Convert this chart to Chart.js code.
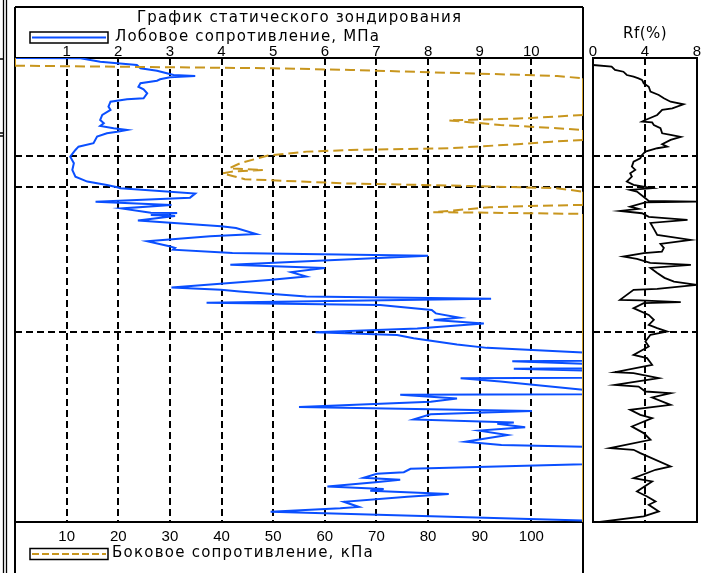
<!DOCTYPE html>
<html>
<head>
<meta charset="utf-8">
<script src="https://cdn.jsdelivr.net/npm/chart.js@4.4.1/dist/chart.umd.min.js"></script>
<style>
  html, body { margin: 0; padding: 0; background: #fff; }
  #wrap { position: relative; width: 705px; height: 573px; overflow: hidden; }
  #main { position: absolute; left: 0; top: 0; }
  #rf { position: absolute; left: 583px; top: 0; }
</style>
</head>
<body>
<div id="wrap">
  <canvas id="main" width="600" height="573"></canvas>
  <canvas id="rf" width="122" height="573"></canvas>
</div>
<script>
// Depth axis (m), layer boundaries
const depthMax = 6.19;
const layerDepths = [1.31, 1.72, 3.65];

// Tick labels
const qcTicks = [1, 2, 3, 4, 5, 6, 7, 8, 9, 10];
const fsTicks = [10, 20, 30, 40, 50, 60, 70, 80, 90, 100];
const rfTicks = [0, 4, 8];

// Cone resistance qc, MPa (values at 11 = off scale)
const qcDepth = [
  0.000, 0.004, 0.049, 0.071, 0.093, 0.137, 0.169, 0.204, 0.227, 0.240,
  0.257, 0.284, 0.303, 0.337, 0.383, 0.417, 0.471, 0.537, 0.551, 0.583,
  0.649, 0.693, 0.760, 0.827, 0.871, 0.907, 0.937, 0.960, 0.983, 1.004,
  1.049, 1.137, 1.183, 1.227, 1.316, 1.404, 1.493, 1.583, 1.649, 1.693,
  1.724, 1.737, 1.809, 1.863, 1.917, 1.960, 2.007, 2.064, 2.067, 2.093,
  2.107, 2.168, 2.244, 2.267, 2.347, 2.377, 2.445, 2.512, 2.533, 2.557,
  2.600, 2.637, 2.759, 2.803, 2.856, 2.915, 2.960, 3.063, 3.093, 3.116,
  3.183, 3.213, 3.264, 3.295, 3.363, 3.407, 3.465, 3.496, 3.541, 3.608,
  3.659, 3.695, 3.740, 3.821, 3.867, 3.929, 4.040, 4.047, 4.079, 4.140,
  4.145, 4.168, 4.264, 4.272, 4.317, 4.425, 4.487, 4.492, 4.541, 4.587,
  4.655, 4.708, 4.753, 4.821, 4.863, 4.880, 4.925, 4.971, 5.029, 5.120,
  5.164, 5.187, 5.421, 5.480, 5.525, 5.547, 5.600, 5.627, 5.660, 5.715,
  5.751, 5.773, 5.817, 5.853, 5.920, 5.989, 6.007, 6.052, 6.169, 6.190
];
const qcValues = [
  0, 1.27, 1.65, 1.98, 2.36, 2.43, 2.75, 2.94, 3.07, 3.49,
  3.00, 2.81, 2.75, 2.43, 2.39, 2.49, 2.56, 2.49, 2.17, 1.85,
  1.81, 1.85, 1.69, 1.65, 1.72, 1.65, 1.91, 2.17, 1.98, 1.78,
  1.59, 1.52, 1.23, 1.17, 1.07, 1.14, 1.11, 1.17, 1.40, 1.78,
  1.98, 2.04, 3.49, 3.39, 1.56, 3.03, 2.06, 2.63, 3.14, 2.63,
  3.10, 2.38, 3.99, 4.28, 4.67, 3.78, 2.56, 2.99, 3.10, 3.06,
  4.21, 8.00, 4.17, 6.00, 5.35, 5.64, 4.92, 3.03, 3.99, 4.35,
  5.64, 9.22, 3.71, 7.07, 8.07, 8.15, 8.61, 8.11, 9.08, 7.79,
  5.82, 7.40, 7.72, 8.56, 9.14, 11, 11, 9.63, 11, 11,
  9.66, 11, 11, 8.63, 9.40, 11, 11, 7.46, 8.56, 8.05,
  5.50, 10.01, 8.05, 7.72, 9.66, 9.34, 9.88, 8.99, 9.54, 8.72,
  9.42, 11, 11, 7.66, 7.53, 7.01, 6.75, 7.46, 6.98, 6.05,
  7.14, 6.88, 8.40, 7.60, 6.37, 6.66, 6.30, 4.95, 11, 11
];

// Sleeve friction fs, kPa (values at 110 = off scale)
const fsDepth = [
  0.000, 0.103, 0.137, 0.160, 0.227, 0.240, 0.271, 0.760, 0.804, 0.833,
  0.893, 0.937, 0.960, 1.093, 1.116, 1.147, 1.204, 1.227, 1.249, 1.300,
  1.404, 1.471, 1.493, 1.516, 1.537, 1.577, 1.617, 1.672, 1.707, 1.737,
  1.783, 1.960, 1.973, 1.991, 2.057, 2.064, 2.071, 2.080, 6.190
];
const fsValues = [
  0, 0, 50, 65, 99, 105, 110, 110, 99, 84,
  94, 105, 110, 110, 104, 98, 84, 65, 56.5, 49,
  43.6, 41.5, 48, 42, 40.2, 42.3, 44.5, 63.7, 88, 104.9,
  110, 110, 99.7, 92, 81, 92, 99.7, 110, 110
];

// Friction ratio Rf, %
const rfDepth = [
  0.093, 0.116, 0.160, 0.183, 0.227, 0.249, 0.271, 0.293, 0.337, 0.383,
  0.449, 0.493, 0.537, 0.583, 0.617, 0.671, 0.693, 0.760, 0.827, 0.849,
  0.860, 0.893, 0.937, 1.004, 1.027, 1.053, 1.093, 1.151, 1.183, 1.204,
  1.249, 1.293, 1.337, 1.383, 1.449, 1.493, 1.537, 1.583, 1.649, 1.693,
  1.737, 1.760, 1.783, 1.871, 1.907, 1.916, 1.927, 1.983, 2.013, 2.040,
  2.071, 2.120, 2.160, 2.200, 2.280, 2.360, 2.427, 2.480, 2.533, 2.583,
  2.604, 2.649, 2.680, 2.733, 2.760, 2.800, 2.867, 2.933, 2.983, 3.027,
  3.080, 3.093, 3.227, 3.233, 3.257, 3.271, 3.337, 3.427, 3.493, 3.560,
  3.604, 3.649, 3.693, 3.783, 3.849, 3.960, 4.004, 4.093, 4.191, 4.204,
  4.271, 4.360, 4.383, 4.449, 4.471, 4.529, 4.627, 4.693, 4.760, 4.804,
  4.916, 5.004, 5.093, 5.204, 5.227, 5.271, 5.449, 5.493, 5.604, 5.649,
  5.783, 5.849, 5.916, 5.960, 6.049, 6.116, 6.190
];
const rfValues = [
  0, 1.43, 1.69, 2.34, 2.60, 3.12, 3.50, 3.77, 3.90, 4.29,
  4.42, 5.06, 5.45, 5.97, 6.96, 6.10, 5.32, 4.94, 4.03, 3.77,
  4.55, 4.68, 5.19, 5.32, 5.97, 6.75, 5.97, 5.32, 5.71, 4.94,
  4.03, 3.77, 3.64, 3.12, 2.99, 3.25, 2.86, 2.99, 2.60, 3.12,
  4.55, 2.86, 3.38, 4.03, 4.29, 8.00, 4.03, 2.86, 3.51, 2.08,
  3.77, 4.29, 7.27, 4.42, 4.68, 4.94, 7.53, 5.19, 5.45, 5.30,
  3.90, 2.34, 3.38, 4.40, 7.53, 4.42, 4.94, 5.50, 6.23, 8.00,
  4.94, 3.12, 2.08, 3.64, 6.75, 3.90, 3.12, 4.29, 4.68, 4.29,
  4.94, 5.71, 4.42, 4.03, 4.29, 3.12, 4.16, 4.55, 1.69, 3.12,
  5.06, 1.69, 3.51, 4.03, 5.97, 4.55, 5.97, 2.86, 3.64, 4.55,
  2.99, 3.90, 4.42, 1.30, 3.12, 3.64, 5.97, 4.81, 3.12, 4.55,
  3.38, 4.16, 4.81, 4.29, 5.06, 3.90, 0.52
];

const chartColors = {
  qc: '#0a4fff',
  fs: '#c8961e',
  rf: '#000000',
  grid: '#000000'
};

const tickFont = { family: 'Liberation Sans', size: 15, lineHeight: 0.8 };
const textFont = '15px "DejaVu Sans"';
const gridDash = [7, 4];

function toPoints(depths, values) {
  return depths.map((d, i) => ({ x: values[i], y: d }));
}

// solid line where the trace runs along the edge of the scale
function edgeDash(min, max) {
  return function(ctx) {
    const a = ctx.p0.parsed.x;
    const b = ctx.p1.parsed.x;
    if ((a >= max && b >= max) || (a <= min && b <= min)) return [];
    return undefined;
  };
}

function fixedTicks(list) {
  return function(scale) {
    scale.ticks = list.map(v => ({ value: v }));
  };
}

function depthAxis() {
  return {
    type: 'linear',
    reverse: true,
    min: 0,
    max: depthMax,
    afterBuildTicks: fixedTicks(layerDepths),
    afterFit: function(scale) { scale.width = 0; },
    ticks: { display: false },
    grid: { color: chartColors.grid, lineWidth: 2, drawTicks: false },
    border: { display: false, dash: gridDash }
  };
}

// text stretched to the width it takes in the drawing
function spacedText(ctx, text, x, y, width) {
  ctx.save();
  ctx.font = textFont;
  ctx.fillStyle = '#000';
  ctx.textAlign = 'left';
  ctx.textBaseline = 'middle';
  ctx.letterSpacing = '0px';
  const w = ctx.measureText(text).width;
  const sp = Math.max(0, (width - w) / text.length);
  ctx.letterSpacing = sp.toFixed(2) + 'px';
  ctx.fillText(text, x, y);
  ctx.restore();
}

function legendIcon(ctx, x, y, color, dash) {
  ctx.save();
  ctx.strokeStyle = '#000';
  ctx.lineWidth = 1.5;
  ctx.strokeRect(x, y, 78, 11);
  ctx.strokeStyle = color;
  ctx.lineWidth = 2;
  ctx.setLineDash(dash);
  ctx.beginPath();
  ctx.moveTo(x + 2, y + 5.5);
  ctx.lineTo(x + 76, y + 5.5);
  ctx.stroke();
  ctx.restore();
}

const mainDecor = {
  id: 'mainDecor',
  beforeDatasetsDraw(chart) {
    const { ctx, chartArea: a } = chart;
    const h = chart.height;
    ctx.save();
    ctx.strokeStyle = '#000';
    ctx.lineWidth = 2;
    ctx.beginPath();
    ctx.moveTo(a.left, 7); ctx.lineTo(a.left, h);
    ctx.moveTo(a.right, 7); ctx.lineTo(a.right, h);
    ctx.moveTo(a.left, 7); ctx.lineTo(a.right, 7);
    ctx.moveTo(a.left, a.top); ctx.lineTo(a.right, a.top);
    ctx.moveTo(a.left, a.bottom); ctx.lineTo(a.right, a.bottom);
    ctx.stroke();
    // edge of the neighbouring column
    ctx.lineWidth = 1.3;
    ctx.beginPath();
    ctx.moveTo(3.5, 0); ctx.lineTo(3.5, h);
    ctx.moveTo(6.5, 0); ctx.lineTo(6.5, h);
    ctx.moveTo(0, a.top + 1); ctx.lineTo(4, a.top + 1);
    ctx.moveTo(0, 133); ctx.lineTo(4, 133);
    ctx.moveTo(0, 136); ctx.lineTo(4, 136);
    ctx.stroke();
    ctx.restore();
  },
  afterDraw(chart) {
    const ctx = chart.ctx;
    spacedText(ctx, 'График статического зондирования', 137, 18, 325);
    legendIcon(ctx, 30, 32, chartColors.qc, []);
    spacedText(ctx, 'Лобовое сопротивление, МПа', 115, 37.5, 265);
    legendIcon(ctx, 30, 548.5, chartColors.fs, [7, 3]);
    spacedText(ctx, 'Боковое сопротивление, кПа', 112, 553, 262);
  }
};

const rfDecor = {
  id: 'rfDecor',
  beforeDatasetsDraw(chart) {
    const { ctx, chartArea: a } = chart;
    ctx.save();
    ctx.strokeStyle = '#000';
    ctx.lineWidth = 2;
    ctx.strokeRect(a.left, a.top, a.right - a.left, a.bottom - a.top);
    ctx.restore();
  },
  afterDraw(chart) {
    spacedText(chart.ctx, 'Rf(%)', 40, 34, 44);
  }
};

new Chart(document.getElementById('main'), {
  type: 'scatter',
  data: {
    datasets: [
      {
        label: 'Боковое сопротивление, кПа',
        data: toPoints(fsDepth, fsValues),
        xAxisID: 'xf',
        yAxisID: 'y',
        showLine: true,
        borderColor: chartColors.fs,
        borderWidth: 2,
        borderDash: [10, 5],
        pointRadius: 0,
        tension: 0,
        segment: { borderDash: edgeDash(0, 110) }
      },
      {
        label: 'Лобовое сопротивление, МПа',
        data: toPoints(qcDepth, qcValues),
        xAxisID: 'xq',
        yAxisID: 'y',
        showLine: true,
        borderColor: chartColors.qc,
        borderWidth: 2,
        pointRadius: 0,
        tension: 0
      }
    ]
  },
  options: {
    responsive: false,
    animation: false,
    events: [],
    layout: { padding: { left: 15, right: 17, top: 0, bottom: 0 } },
    plugins: {
      legend: { display: false },
      tooltip: { enabled: false }
    },
    scales: {
      xq: {
        type: 'linear',
        position: 'top',
        min: 0,
        max: 11,
        afterBuildTicks: fixedTicks(qcTicks),
        afterFit: function(scale) { scale.height = 58; },
        ticks: { color: '#000', font: tickFont, padding: 0, maxRotation: 0, autoSkip: false },
        grid: { color: chartColors.grid, lineWidth: 2, drawTicks: false },
        border: { display: false, dash: gridDash }
      },
      xf: {
        type: 'linear',
        position: 'bottom',
        min: 0,
        max: 110,
        afterBuildTicks: fixedTicks(fsTicks),
        afterFit: function(scale) { scale.height = 51; },
        ticks: { color: '#000', font: tickFont, padding: 8.5, maxRotation: 0, autoSkip: false },
        grid: { display: false, drawTicks: false },
        border: { display: false }
      },
      y: depthAxis()
    }
  },
  plugins: [mainDecor]
});

new Chart(document.getElementById('rf'), {
  type: 'scatter',
  data: {
    datasets: [{
      label: 'Rf(%)',
      data: toPoints(rfDepth, rfValues),
      xAxisID: 'x',
      yAxisID: 'y',
      showLine: true,
      borderColor: chartColors.rf,
      borderWidth: 1.8,
      pointRadius: 0,
      tension: 0
    }]
  },
  options: {
    responsive: false,
    animation: false,
    events: [],
    layout: { padding: { left: 10, right: 8, top: 0, bottom: 51 } },
    plugins: {
      legend: { display: false },
      tooltip: { enabled: false }
    },
    scales: {
      x: {
        type: 'linear',
        position: 'top',
        min: 0,
        max: 8,
        afterBuildTicks: fixedTicks(rfTicks),
        afterFit: function(scale) { scale.height = 58; },
        ticks: { color: '#000', font: tickFont, padding: 0, maxRotation: 0, autoSkip: false },
        grid: {
          color: function(c) { return c.tick && c.tick.value === 4 ? chartColors.grid : 'rgba(0,0,0,0)'; },
          lineWidth: 2,
          drawTicks: false
        },
        border: { display: false, dash: gridDash }
      },
      y: depthAxis()
    }
  },
  plugins: [rfDecor]
});
</script>
</body>
</html>
